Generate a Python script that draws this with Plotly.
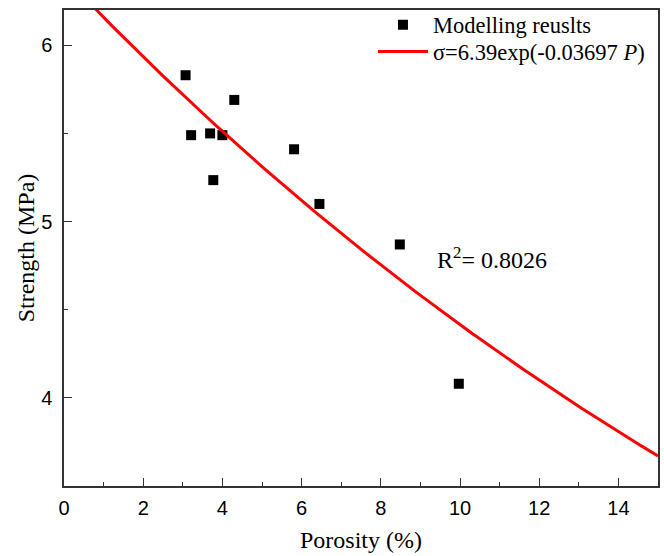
import numpy as np
import plotly.graph_objects as go

# Modelling results
porosity = [3.07, 3.21, 3.69, 4.00, 3.77, 4.30, 5.81, 6.45, 8.48, 9.97]
strength = [5.83, 5.49, 5.50, 5.49, 5.235, 5.69, 5.41, 5.10, 4.87, 4.08]

# Fitted model parameters shown in the legend: sigma = a*exp(-b*P)
fit_a = 6.39
fit_b = 0.03697
fit_p = np.linspace(0, 15, 301)
fit_s = fit_a * np.exp(-fit_b * fit_p)

x_ticks = [0, 2, 4, 6, 8, 10, 12, 14]
y_ticks = [4, 5, 6]

serif = "Liberation Serif, Times New Roman, serif"
sans = "Liberation Sans, Arial, sans-serif"

fig = go.Figure()
fig.add_trace(go.Scatter(
    x=porosity, y=strength, mode="markers", name="Modelling reuslts",
    marker=dict(symbol="square", size=10, color="black"), legend="legend",
))
fig.add_trace(go.Scatter(
    x=fit_p, y=fit_s, mode="lines", name="σ=6.39exp(-0.03697 <i>P</i>)",
    line=dict(color="#ff0000", width=3), legend="legend2",
))

fig.add_annotation(
    x=9.37, y=4.795, xref="x", yref="y", xanchor="left", yanchor="middle",
    text="R<sup>2</sup>= 0.8026", showarrow=False,
    font=dict(family=serif, size=24, color="black"),
)

axis_common = dict(
    showgrid=False, zeroline=False, showline=True, linecolor="#333333",
    linewidth=1.5, mirror=True, ticks="inside", ticklen=8, tickwidth=1.2,
    tickcolor="#333333", tickfont=dict(family=sans, size=20, color="black"),
    automargin=False,
)

fig.update_xaxes(
    range=[0, 15], tickvals=x_ticks, ticktext=[str(v) for v in x_ticks],
    title=dict(text="Porosity (%)", font=dict(family=serif, size=24, color="black"), standoff=13),
    minor=dict(dtick=1, tick0=0, ticks="inside", ticklen=4, tickcolor="#333333", tickwidth=1.2),
    ticklabelstandoff=3,
    **axis_common,
)
fig.update_yaxes(
    range=[3.5, 6.2], tickvals=y_ticks, ticktext=[str(v) for v in y_ticks],
    title=dict(text="Strength (MPa)", font=dict(family=serif, size=24, color="black"), standoff=0),
    minor=dict(dtick=0.5, tick0=0, ticks="inside", ticklen=4, tickcolor="#333333", tickwidth=1.2),
    ticklabelstandoff=6,
    **axis_common,
)

legend_common = dict(
    xref="container", yref="container", xanchor="left", yanchor="middle",
    font=dict(family=serif, size=22.5, color="black"),
    bgcolor="rgba(0,0,0,0)", itemwidth=50,
)

fig.update_layout(
    width=664, height=556,
    margin=dict(l=64, r=6, t=10, b=70, autoexpand=False),
    paper_bgcolor="white", plot_bgcolor="white",
    legend=dict(x=0.5617, y=0.9550, **legend_common),
    legend2=dict(x=0.5617, y=0.9065, **legend_common),
    showlegend=True,
)

fig.write_html("out.html", config={"displayModeBar": False},
               post_script="document.body.style.margin='0';")
